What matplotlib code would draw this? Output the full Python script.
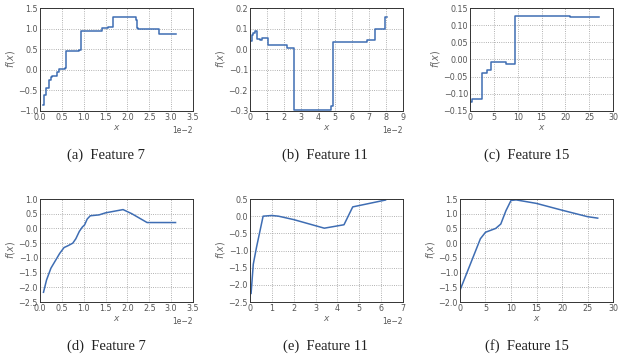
import matplotlib
matplotlib.use("Agg")
import matplotlib.pyplot as plt
import numpy as np

# Panel (a): Feature 7 step shape function (level start x in 1e-2, level value)
a_x = [0.08, 0.085, 0.14, 0.21, 0.25, 0.28, 0.36, 0.40, 0.43, 0.50, 0.57, 0.60, 0.90, 0.93, 1.42, 1.55, 1.67, 2.20, 2.22, 2.25, 2.72, 3.10]
a_y = [-0.85, -0.60, -0.43, -0.25, -0.17, -0.15, -0.14, -0.05, 0.02, 0.03, 0.05, 0.45, 0.47, 0.95, 1.02, 1.05, 1.27, 1.20, 1.02, 1.00, 0.88, 0.88]

# Panel (b): Feature 11
b_x = [0.02, 0.10, 0.20, 0.30, 0.40, 0.60, 0.70, 1.05, 2.20, 2.60, 4.75, 4.90, 6.90, 7.35, 7.97, 8.05]
b_y = [0.042, 0.07, 0.08, 0.09, 0.05, 0.045, 0.055, 0.02, 0.005, -0.295, -0.275, 0.035, 0.045, 0.100, 0.155, 0.155]

# Panel (c): Feature 15
c_x = [0.2, 0.5, 2.5, 3.5, 4.5, 7.5, 9.5, 21.0, 27.0]
c_y = [-0.125, -0.115, -0.040, -0.030, -0.008, -0.012, 0.128, 0.125, 0.125]

# Panel (d): Feature 7 smooth
d_x = [0.08, 0.15, 0.25, 0.35, 0.45, 0.55, 0.65, 0.75, 0.82, 0.90, 0.97, 1.02, 1.08, 1.15, 1.35, 1.50, 1.90, 2.10, 2.45, 2.70, 3.10]
d_y = [-2.17, -1.75, -1.35, -1.10, -0.85, -0.65, -0.58, -0.50, -0.35, -0.10, 0.05, 0.12, 0.32, 0.43, 0.46, 0.53, 0.64, 0.50, 0.20, 0.20, 0.20]

# Panel (e): Feature 11 smooth
e_x = [0.05, 0.15, 0.30, 0.60, 1.00, 1.30, 2.00, 3.40, 4.30, 4.70, 6.20]
e_y = [-2.25, -1.40, -0.90, 0.00, 0.02, 0.00, -0.10, -0.35, -0.25, 0.27, 0.47]

# Panel (f): Feature 15 smooth
f_x = [0.0, 4.0, 5.0, 7.0, 8.0, 9.0, 10.0, 11.0, 15.0, 20.0, 25.0, 27.0]
f_y = [-1.60, 0.15, 0.37, 0.50, 0.65, 1.10, 1.45, 1.47, 1.35, 1.12, 0.90, 0.85]

captions = ["(a)  Feature 7", "(b)  Feature 11", "(c)  Feature 15",
            "(d)  Feature 7", "(e)  Feature 11", "(f)  Feature 15"]

W, H = 628, 358
fig = plt.figure(figsize=(W / 100, H / 100), dpi=100)
line_color = "#3e6db3"

def px_axes(l, r, t, b):
    return fig.add_axes([l / W, 1 - b / H, (r - l) / W, (b - t) / H])

specs = [
    # box, xdata, ydata, xscale, drawstyle, xlim, ylim, yticks, xticks
    ((40, 193, 8, 111), a_x, a_y, 1e-2, "steps-post", (0, 0.035), (-1.0, 1.5), np.arange(-1.0, 1.51, 0.5), np.arange(0, 0.0351, 0.005)),
    ((250, 403, 8, 111), b_x, b_y, 1e-2, "steps-post", (0, 0.09), (-0.3, 0.2), np.arange(-0.3, 0.201, 0.1), np.arange(0, 0.0901, 0.01)),
    ((470, 613, 8, 111), c_x, c_y, 1, "steps-post", (0, 30), (-0.15, 0.15), np.arange(-0.15, 0.151, 0.05), np.arange(0, 30.1, 5)),
    ((40, 193, 199, 302), d_x, d_y, 1e-2, "default", (0, 0.035), (-2.5, 1.0), np.arange(-2.5, 1.01, 0.5), np.arange(0, 0.0351, 0.005)),
    ((250, 403, 199, 302), e_x, e_y, 1e-2, "default", (0, 0.07), (-2.5, 0.5), np.arange(-2.5, 0.51, 0.5), np.arange(0, 0.0701, 0.01)),
    ((460, 613, 199, 302), f_x, f_y, 1, "default", (0, 30), (-2.0, 1.5), np.arange(-2.0, 1.51, 0.5), np.arange(0, 30.1, 5)),
]

for (box, xs, ys, sc, ds, xl, yl, yt, xt) in specs:
    ax = px_axes(*box)
    ax.plot(np.array(xs) * sc, ys, color=line_color, lw=1.1, drawstyle=ds)
    ax.set_xlim(*xl)
    ax.set_ylim(*yl)
    ax.set_xticks(xt)
    ax.set_yticks(yt)
    if sc != 1:
        ax.ticklabel_format(axis="x", style="sci", scilimits=(0, 0))
        ax.xaxis.get_offset_text().set_fontsize(5.5)
        ax.xaxis.get_offset_text().set_color("#555555")
    ax.grid(True, color="#999999", linestyle=":", linewidth=0.6)
    ax.tick_params(labelsize=5.8, colors="#555555", length=0, width=0.5, direction="in",
                   top=True, right=True, pad=1.5)
    for s in ax.spines.values():
        s.set_color("#333333")
        s.set_linewidth(0.7)
    ax.set_xlabel(r"$x$", fontsize=6.5, color="#666666", labelpad=1)
    ax.set_ylabel(r"$f(x)$", fontsize=7, color="#666666", labelpad=1)

cap_pos = [(106, 155), (325, 155), (527, 155), (106, 346), (325, 346), (527, 346)]
for (cx, cy), txt in zip(cap_pos, captions):
    fig.text(cx / W, 1 - cy / H, txt, ha="center", va="center",
             fontsize=10.5, family="Liberation Serif", color="#222222")

fig.savefig("out.png", dpi=100)
